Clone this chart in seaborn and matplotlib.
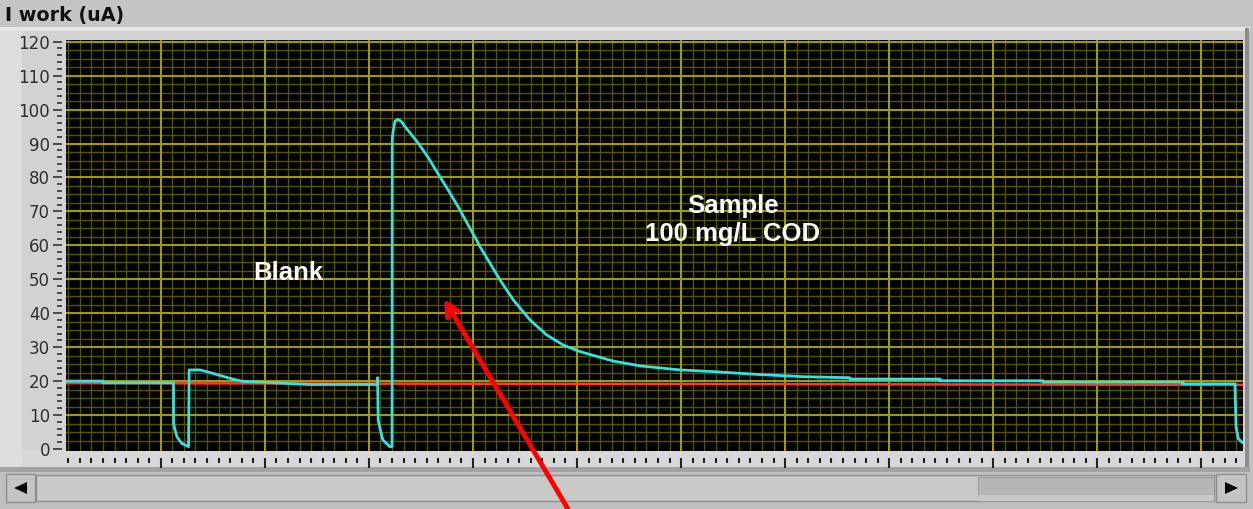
import numpy as np
import pandas as pd
import matplotlib
matplotlib.use("Agg")
import matplotlib.pyplot as plt
import seaborn as sns
from matplotlib.patches import Rectangle, Polygon
from matplotlib.ticker import MultipleLocator

# ---------------- data ----------------
time_s = [8, 40, 40, 101, 101, 102, 104, 108, 114, 114.5, 124, 135, 150, 161, 178, 219,
          277, 277.5, 278, 280, 282, 288, 290, 290.2, 290.9, 292.6, 294.9, 297.8, 301.2,
          312.7, 321.4, 330.0, 338.7, 347.3, 356.0, 361.8, 366.1, 374.8, 383.4, 394.9,
          409.4, 423.8, 438.2, 452.6, 481.4, 504.5, 539, 568, 605, 646, 686,
          686, 764, 764, 853, 853, 974, 974, 1019, 1020, 1022, 1026]
i_work = [20.0, 20.0, 19.5, 19.5, 7.7, 6.0, 3.6, 1.7, 0.7, 23.3, 23.3, 22.3, 20.8, 19.9, 19.7, 19.0,
          19.0, 21.0, 8.5, 5.5, 2.7, 0.7, 0.7, 91.3, 93.5, 96.6, 97.1, 96.6, 95.0,
          90.1, 85.8, 81.0, 76.2, 71.3, 65.9, 62.4, 59.6, 54.7, 49.8, 43.9,
          38.0, 33.6, 30.6, 28.7, 25.9, 24.5, 23.3, 22.8, 22.0, 21.3, 21.0,
          20.6, 20.6, 20.1, 20.1, 19.7, 19.7, 19.2, 19.2, 6.6, 3.0, 1.8]
baseline_t = [8, 1026]
baseline_i = [19.4, 18.9]
y_ticks = list(range(0, 121, 10))
y_ticklabels = [str(v) for v in y_ticks]
title_text = "I work (uA)"
label_blank = "Blank"
label_sample = "Sample\n100 mg/L COD"

trace = pd.DataFrame({"t": time_s, "I": i_work})
base = pd.DataFrame({"t": baseline_t, "I": baseline_i})

# ---------------- figure ----------------
sns.set_style("dark")
plt.rcParams["font.family"] = ["DejaVu Sans"]
W, H = 1253, 509
fig = plt.figure(figsize=(W / 100, H / 100), dpi=100, facecolor="#c3c3c3")


def rect(x0, y0, x1, y1, color, z=0, **kw):
    fig.patches.append(Rectangle((x0 / W, 1 - y1 / H), (x1 - x0) / W, (y1 - y0) / H,
                                 transform=fig.transFigure, facecolor=color,
                                 edgecolor=kw.pop("ec", "none"), lw=kw.pop("lw", 0),
                                 zorder=z, **kw))


def tri(pts, color="black"):
    fig.patches.append(Polygon([(x / W, 1 - y / H) for x, y in pts], closed=True,
                               transform=fig.transFigure, facecolor=color,
                               edgecolor="none", zorder=2))


# panel chrome
rect(0, 0, W, 27, "#c5c5c5")
rect(0, 27, 1250, 31, "#e6e6e6")
rect(0, 31, 1248, 470, "#d2d2d2")
rect(0, 31, 22, 470, "#dedede")
rect(1245, 28, 1249, 470, "#8c8c8c")
rect(22, 450, 1245, 467, "#d8d8d8")
rect(0, 467, 1250, 472, "#a2a2a2")
rect(0, 472, W, H, "#c0c0c0")
rect(36, 475, 1214, 501, "#c9c9c9", ec="#8e8e8e", lw=1)
rect(978, 477, 1214, 501, "#b6b6b6", z=1, ec="#9a9a9a", lw=0.8)
rect(978, 495, 1214, 501, "#c8c8c8", z=1)
rect(6, 474, 35, 502, "#c4c4c4", z=1, ec="#8e8e8e", lw=1)
rect(1216, 474, 1246, 502, "#c4c4c4", z=1, ec="#8e8e8e", lw=1)
tri([(14, 488), (27, 482), (27, 494)])
tri([(1238, 488), (1225, 482), (1225, 494)])

fig.text(5 / W, 1 - 15 / H, title_text, fontsize=13.8, fontweight="bold",
         color="#111111", va="center", ha="left")

# plot area
ax = fig.add_axes([66 / W, 1 - 450.7 / H, (1243 - 66) / W, (450.7 - 39.5) / H])
ax.set_zorder(5)
ax.set_facecolor("black")

sns.lineplot(data=base, x="t", y="I", ax=ax, color="#ff3a30", lw=1.8,
             estimator=None, sort=False, zorder=3)
sns.lineplot(data=trace, x="t", y="I", ax=ax, color="#35e2e2", lw=2.0,
             estimator=None, sort=False, zorder=4)

ax.set_xlim(8, 1026)
ax.set_ylim(-0.5, 120.65)
ax.set_xlabel("")
ax.set_ylabel("")

ax.xaxis.set_major_locator(MultipleLocator(90))
ax.xaxis.set_minor_locator(MultipleLocator(10))
ax.set_yticks(y_ticks)
ax.set_yticklabels(y_ticklabels)
ax.yaxis.set_minor_locator(MultipleLocator(2))

ax.grid(False)
ax.set_axisbelow(True)
for v in np.arange(0, 121, 2.5):
    if v % 10:
        ax.axhline(v, color="#545400", lw=1.0, zorder=0.5)
for v in np.arange(10, 1026, 10):
    if v % 90:
        ax.axvline(v, color="#545400", lw=1.0, zorder=0.5)
for v in range(10, 121, 10):
    ax.axhline(v, color="#9e9c00", lw=1.5, zorder=0.6)
for v in range(90, 1026, 90):
    ax.axvline(v, color="#9e9c00", lw=1.5, zorder=0.6)

for s in ax.spines.values():
    s.set_visible(False)
ax.spines["bottom"].set_position(("outward", 5))
ax.spines["left"].set_position(("outward", 3))

ax.tick_params(axis="x", which="major", bottom=True, length=7, width=1.5,
               color="#222222", labelbottom=False)
ax.tick_params(axis="x", which="minor", bottom=True, length=3.6, width=1.5,
               color="#222222")
ax.tick_params(axis="y", which="major", left=True, length=6.5, width=1.2,
               color="#333333", pad=2, labelsize=12, labelcolor="#2e2e2e")
ax.tick_params(axis="y", which="minor", left=True, length=3.6, width=1.2,
               color="#333333")

# annotations
fig.text(288 / W, 1 - 273 / H, label_blank, color="white", fontsize=18.5,
         fontweight="bold", family=["Liberation Sans"], ha="center", va="center",
         zorder=10)
fig.text(733 / W, 1 - 220 / H, label_sample, color="white", fontsize=18.5,
         fontweight="bold", family=["Liberation Sans"], ha="center", va="center",
         linespacing=1.25, zorder=10)

ax.annotate("", xy=(335, 44.2), xycoords="data",
            xytext=(568 / W, 0.0), textcoords="figure fraction",
            arrowprops=dict(arrowstyle="->,head_length=0.9,head_width=0.45",
                            color="#ff0000", lw=3.5, shrinkA=0, shrinkB=0),
            annotation_clip=False, zorder=10)

fig.savefig("out.png", dpi=100, facecolor=fig.get_facecolor())
